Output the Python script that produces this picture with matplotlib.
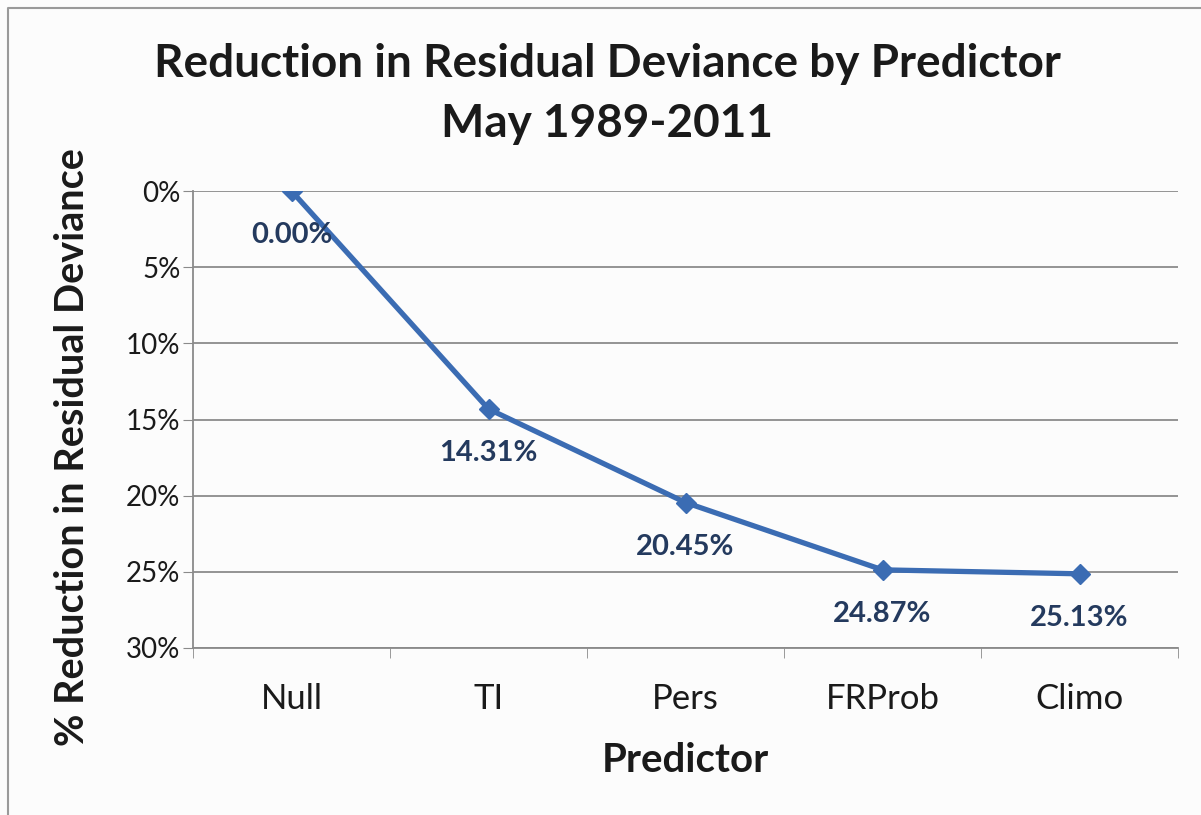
import matplotlib
matplotlib.use("Agg")
import matplotlib.pyplot as plt
from matplotlib.lines import Line2D
from matplotlib.ticker import FuncFormatter, MultipleLocator

# data
predictors = ["Null", "TI", "Pers", "FRProb", "Climo"]
reduction = [0.00, 14.31, 20.45, 24.87, 25.13]
value_labels = ["0.00%", "14.31%", "20.45%", "24.87%", "25.13%"]

line_color = "#3B6CB3"
label_color = "#243A5E"
text_color = "#1A1A1A"

plt.rcParams["font.family"] = ["Lato", "DejaVu Sans"]

fig = plt.figure(figsize=(12.01, 8.15), dpi=100)
fig.patch.set_facecolor("#fcfcfc")
# only the top and left edges of the chart frame are visible
fig.add_artist(Line2D([8 / 1201, 8 / 1201, 1], [0, 1 - 8 / 815, 1 - 8 / 815],
                      transform=fig.transFigure, color="#9a9a9a", linewidth=1.5))

ax = fig.add_axes([193 / 1201, 1 - 648 / 815, 985 / 1201, 457 / 815])
ax.set_facecolor("#fcfcfc")
x = range(len(predictors))
ax.plot(x, reduction, color=line_color, linewidth=3.8, marker="D",
        markersize=10, zorder=3)
for xi, yi, lab in zip(x, reduction, value_labels):
    ax.annotate(lab, (xi, yi), xytext=(0, -32), textcoords="offset points",
                ha="center", va="center", fontsize=21, fontweight="bold",
                color=label_color, zorder=4)

ax.set_xlim(-0.5, len(predictors) - 0.5)
ax.set_ylim(30, 0)
ax.yaxis.set_major_locator(MultipleLocator(5))
ax.yaxis.set_major_formatter(FuncFormatter(lambda v, p: f"{v:.0f}%"))
ax.set_xticks(list(x))
ax.set_xticklabels(predictors)
ax.set_xticks([i - 0.5 for i in range(len(predictors) + 1)], minor=True)
ax.tick_params(axis="x", which="major", length=0, pad=25, labelsize=25,
               labelcolor=text_color)
ax.tick_params(axis="x", which="minor", length=7, color="#8a8a8a", direction="out")
ax.tick_params(axis="y", length=7, color="#8a8a8a", pad=2, labelsize=20,
               labelcolor=text_color)
ax.grid(axis="y", color="#8c8c8c", linewidth=1.3)
ax.set_axisbelow(True)
for side in ["top", "right"]:
    ax.spines[side].set_visible(False)
for side in ["left", "bottom"]:
    ax.spines[side].set_color("#8a8a8a")
    ax.spines[side].set_linewidth(1.3)

ax.set_xlabel("Predictor", fontsize=29, fontweight="bold", color=text_color,
              labelpad=20)
ax.set_ylabel("% Reduction in Residual Deviance", fontsize=28.5,
              fontweight="bold", color=text_color, va="center")
ax.yaxis.set_label_coords(-(193 - 73) / 985, 0.44)

fig.text(607 / 1201, 1 - 94 / 815, "Reduction in Residual Deviance by Predictor\nMay 1989-2011",
         ha="center", va="center", fontsize=33, fontweight="bold",
         color=text_color, linespacing=1.55)

fig.savefig("out.png", dpi=100, facecolor=fig.get_facecolor())
